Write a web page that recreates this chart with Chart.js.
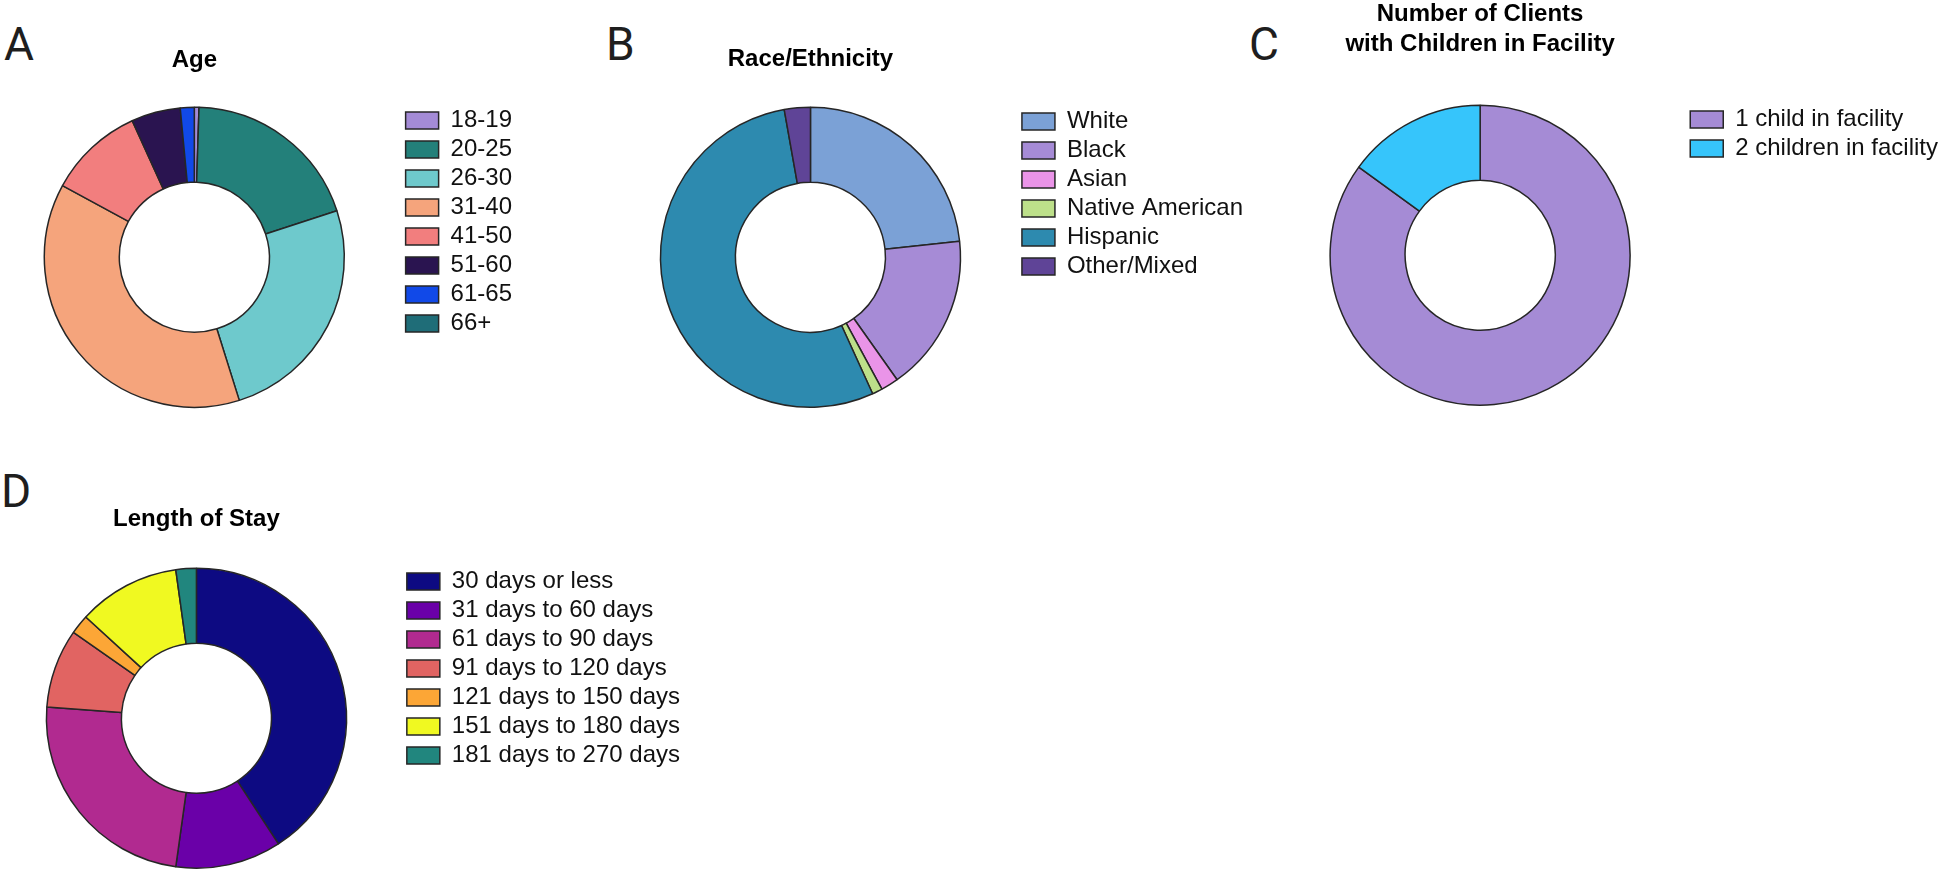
<!DOCTYPE html>
<html>
<head>
<meta charset="utf-8">
<script src="https://cdn.jsdelivr.net/npm/chart.js@4.4.1/dist/chart.umd.min.js"></script>
<style>
  html, body { margin: 0; padding: 0; background: #fff; }
  body { width: 1946px; height: 872px; position: relative; overflow: hidden; }
  canvas { position: absolute; }
  .tag { position: absolute; font-family: Roboto, 'Liberation Sans', sans-serif; font-weight: 400;
         font-size: 46px; line-height: 46px; color: #1e1e1e; }
</style>
</head>
<body>
<div class="tag" style="left:4px;top:21px">A</div>
<div class="tag" style="left:606px;top:21px">B</div>
<div class="tag" style="left:1249px;top:21px">C</div>
<div class="tag" style="left:1px;top:468px">D</div>

<canvas id="age"></canvas>
<canvas id="race"></canvas>
<canvas id="kids"></canvas>
<canvas id="stay"></canvas>

<script>
// data (percent of clients)
const ageLabels = ['18-19', '20-25', '26-30', '31-40', '41-50', '51-60', '61-65', '66+'];
const ageValues = [0.5, 19.5, 25.2, 37.8, 10.3, 5.3, 1.5, 0];

const raceLabels = ['White', 'Black', 'Asian', 'Native American', 'Hispanic', 'Other/Mixed'];
const raceValues = [23.3, 16.9, 1.9, 1.1, 54.0, 2.8];

const kidsLabels = ['1 child in facility', '2 children in facility'];
const kidsValues = [85, 15];

const stayLabels = ['30 days or less', '31 days to 60 days', '61 days to 90 days', '91 days to 120 days',
                    '121 days to 150 days', '151 days to 180 days', '181 days to 270 days'];
const stayValues = [40.8, 11.4, 24.0, 8.5, 2.1, 11.0, 2.2];

// colours
const ageColors = ['#a48bd6', '#23807a', '#6ec9cc', '#f5a47c', '#f27e7e', '#2a1450', '#1149e8', '#1f6d78'];
const raceColors = ['#7ba1d6', '#a68bd6', '#ea94e8', '#bde08a', '#2d8aaf', '#5f4497'];
const kidsColors = ['#a58bd5', '#36c5fb'];
const stayColors = ['#0d0a82', '#6a00a8', '#b12a90', '#e16462', '#fca636', '#f0f921', '#21867e'];

const FONT = "'Liberation Sans', Arial, Helvetica, sans-serif";
Chart.defaults.font.family = FONT;

const FS = 24, PAD = 5, BOX_W = 33, BOX_H = 17, RADIUS = 150;

// width the legend needs, same sum Chart.js does in its fit()
function legendWidth(labels) {
    const ctx = document.createElement('canvas').getContext('2d');
    ctx.font = 'normal ' + FS + 'px ' + FONT;
    let widest = 0;
    labels.forEach(t => { widest = Math.max(widest, ctx.measureText(t).width); });
    return Math.ceil(PAD + BOX_W + FS / 2 + widest + 10);
}

function donut(id, labels, values, colors, p) {
    const lines = Array.isArray(p.title) ? p.title.length : 1;
    const lh = p.lineHeight;
    // chart area is centred on the donut, legend starts at its right edge
    const chartTop = p.boxTop - PAD - (FS - BOX_H) / 2;
    const chartBottom = 2 * p.cy - chartTop;
    const chartRight = p.boxLeft - PAD;
    const chartLeft = 2 * p.cx - chartRight;
    const top = Math.floor(p.titleMid - lh / 2 - 4);
    const padTop = p.titleMid - lh / 2 - top;
    const padBottom = chartTop - top - padTop - lines * lh;
    const legendW = legendWidth(labels);

    const canvas = document.getElementById(id);
    canvas.width = Math.round(chartRight - chartLeft + legendW);
    canvas.height = Math.round(chartBottom - top);
    canvas.style.width = canvas.width + 'px';
    canvas.style.height = canvas.height + 'px';
    canvas.style.left = chartLeft + 'px';
    canvas.style.top = top + 'px';

    return new Chart(canvas, {
        type: 'doughnut',
        data: {
            labels: labels,
            datasets: [{
                data: values,
                backgroundColor: colors,
                borderColor: '#262626',
                borderWidth: 1.5
            }]
        },
        options: {
            responsive: false,
            animation: false,
            events: [],
            radius: RADIUS,
            cutout: '50%',
            layout: { padding: 0 },
            plugins: {
                title: {
                    display: true,
                    text: p.title,
                    fullSize: false,
                    color: '#000',
                    font: { size: 24, weight: 'bold', lineHeight: lh / 24 },
                    padding: { top: padTop, bottom: padBottom }
                },
                legend: {
                    position: 'right',
                    align: 'start',
                    fullSize: false,
                    maxWidth: legendW,
                    labels: {
                        color: '#111',
                        font: { size: FS },
                        boxWidth: BOX_W,
                        boxHeight: BOX_H,
                        padding: PAD
                    }
                },
                tooltip: { enabled: false }
            }
        }
    });
}

donut('age', ageLabels, ageValues, ageColors,
      { title: 'Age', cx: 194, cy: 257, boxLeft: 405, boxTop: 112, titleMid: 60.7, lineHeight: 28.8 });
donut('race', raceLabels, raceValues, raceColors,
      { title: 'Race/Ethnicity', cx: 810, cy: 257, boxLeft: 1021, boxTop: 113, titleMid: 59.7, lineHeight: 28.8 });
donut('kids', kidsLabels, kidsValues, kidsColors,
      { title: ['Number of Clients', 'with Children in Facility'], cx: 1480, cy: 255, boxLeft: 1690, boxTop: 111,
        titleMid: 14.7, lineHeight: 30 });
donut('stay', stayLabels, stayValues, stayColors,
      { title: 'Length of Stay', cx: 196, cy: 718, boxLeft: 406, boxTop: 573, titleMid: 519.7, lineHeight: 28.8 });
</script>
</body>
</html>
